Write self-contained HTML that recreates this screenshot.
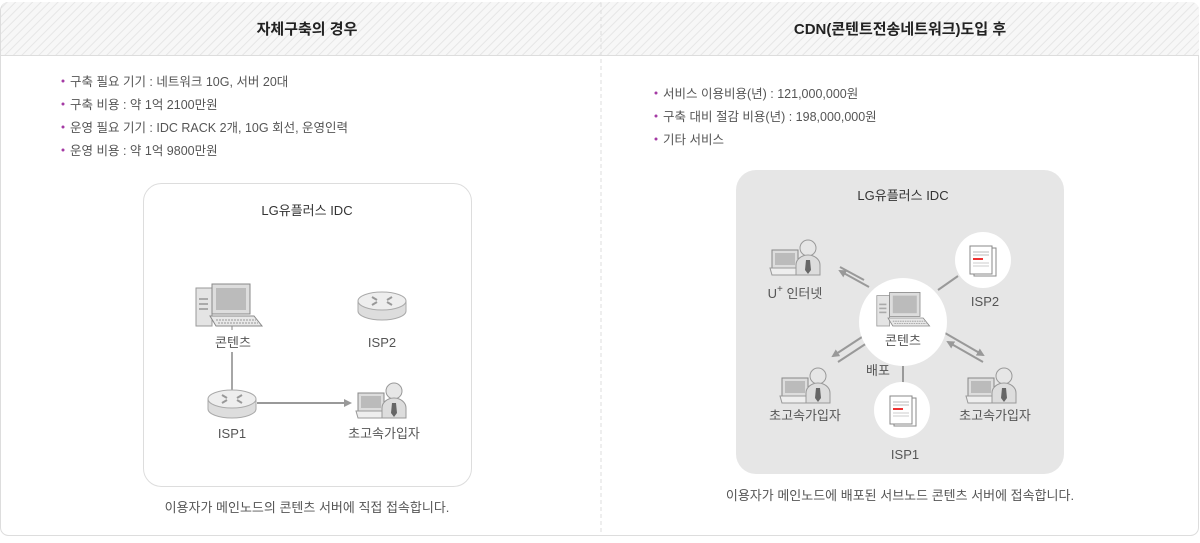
<!DOCTYPE html>
<html><head><meta charset="utf-8"><style>
html,body{margin:0;padding:0;background:#fff;}
body{width:1200px;height:538px;overflow:hidden;font-family:"Liberation Sans","Noto Sans CJK KR",sans-serif;}
</style></head><body>
<svg width="1200" height="538" viewBox="0 0 1200 538" xmlns="http://www.w3.org/2000/svg" font-family="Liberation Sans, Noto Sans CJK KR, sans-serif">
<defs>
<pattern id="hatch" width="6" height="6" patternUnits="userSpaceOnUse" patternTransform="rotate(45)">
<rect width="6" height="6" fill="#f7f7f7"/><line x1="0" y1="0" x2="0" y2="6" stroke="#e6e6e6" stroke-width="2"/></pattern>
<g id="pc">
<rect x="0" y="4" width="16" height="38" fill="#e4e4e4" stroke="#999"/>
<rect x="3" y="14" width="9" height="2" fill="#aaa"/><rect x="3" y="19" width="9" height="2" fill="#aaa"/><rect x="3" y="24" width="9" height="2" fill="#aaa"/>
<rect x="16" y="0" width="38" height="30" fill="#ddd" stroke="#888"/>
<rect x="20" y="4" width="30" height="22" fill="#bbb"/>
<polygon points="14,32 58,32 66,42 20,42" fill="#e8e8e8" stroke="#888"/>
<line x1="20" y1="36" x2="60" y2="36" stroke="#999" stroke-dasharray="2 1"/>
<line x1="22" y1="39" x2="62" y2="39" stroke="#999" stroke-dasharray="2 1"/>
</g>
<g id="router">
<path d="M-24,-4 v10 a24,9 0 0 0 48,0 v-10" fill="#ddd" stroke="#aaa"/>
<ellipse cx="0" cy="-4" rx="24" ry="9" fill="#eee" stroke="#aaa"/>
<path d="M-10,-8 l5,3 M10,-8 l-5,3 M-10,0 l5,-3 M10,0 l-5,-3" stroke="#999" stroke-width="2"/>
</g>
<g id="user">
<rect x="0" y="10" width="26" height="18" fill="#ddd" stroke="#888"/>
<rect x="3" y="13" width="20" height="12" fill="#bbb"/>
<polygon points="-2,28 30,28 34,35 0,35" fill="#eee" stroke="#999"/>
<circle cx="36" cy="8" r="8" fill="#e6e6e6" stroke="#999"/>
<path d="M24,35 v-10 a12,10 0 0 1 24,0 v10 z" fill="#ddd" stroke="#999"/>
<polygon points="34,20 38,20 39,30 36,34 33,30" fill="#666"/>
</g>
<g id="doc">
<rect x="4" y="2" width="22" height="28" fill="#fff" stroke="#888"/>
<rect x="0" y="0" width="22" height="28" fill="#fff" stroke="#888"/>
<line x1="3" y1="6" x2="19" y2="6" stroke="#bbb"/><line x1="3" y1="9" x2="19" y2="9" stroke="#bbb"/>
<rect x="3" y="12" width="10" height="2" fill="#e33"/>
<line x1="3" y1="17" x2="19" y2="17" stroke="#ccc"/><line x1="3" y1="20" x2="19" y2="20" stroke="#ccc"/>
</g>
<marker id="ah" markerWidth="8" markerHeight="8" refX="6" refY="4" orient="auto" markerUnits="userSpaceOnUse"><path d="M0,0 L8,4 L0,8 z" fill="#999"/></marker>
</defs>

<rect x="0.5" y="2.5" width="1198" height="533" rx="8" fill="#fff" stroke="#ddd"/>
<path d="M1,55 V10 a8,8 0 0 1 8,-8 H1191 a8,8 0 0 1 8,8 V55 z" fill="url(#hatch)"/>
<line x1="1" y1="55.5" x2="1199" y2="55.5" stroke="#ddd"/>
<line x1="601" y1="3" x2="601" y2="535" stroke="#ddd" stroke-dasharray="4 3"/>
<text x="307" y="34" font-size="15" font-weight="bold" text-anchor="middle" fill="#222">자체구축의 경우</text>
<text x="900" y="34" font-size="15" font-weight="bold" text-anchor="middle" fill="#222">CDN(콘텐트전송네트워크)도입 후</text>

<g font-size="12.5" fill="#555">
<g fill="#a43aa4"><circle cx="63" cy="81" r="1.5"/><circle cx="63" cy="104" r="1.5"/><circle cx="63" cy="127" r="1.5"/><circle cx="63" cy="150" r="1.5"/>
<circle cx="656" cy="93" r="1.5"/><circle cx="656" cy="116" r="1.5"/><circle cx="656" cy="139" r="1.5"/></g>
<text x="70" y="86">구축 필요 기기 : 네트워크 10G, 서버 20대</text>
<text x="70" y="109">구축 비용 : 약 1억 2100만원</text>
<text x="70" y="132">운영 필요 기기 : IDC RACK 2개, 10G 회선, 운영인력</text>
<text x="70" y="155">운영 비용 : 약 1억 9800만원</text>
<text x="663" y="98">서비스 이용비용(년) : 121,000,000원</text>
<text x="663" y="121">구축 대비 절감 비용(년) : 198,000,000원</text>
<text x="663" y="144">기타 서비스</text>
</g>

<!-- left box -->
<rect x="143.5" y="183.5" width="328" height="303" rx="18" fill="#fff" stroke="#ddd"/>
<text x="307" y="215" font-size="13" text-anchor="middle" fill="#333">LG유플러스 IDC</text>
<use href="#pc" x="196" y="284"/>
<use href="#router" x="382" y="305"/>
<line x1="232" y1="326" x2="232" y2="330" stroke="#888"/>
<line x1="232" y1="352" x2="232" y2="390" stroke="#888" stroke-width="1.5"/>
<use href="#router" x="232" y="403"/>
<line x1="257" y1="403" x2="350" y2="403" stroke="#999" stroke-width="2" marker-end="url(#ah)"/>
<use href="#user" x="358" y="383"/>
<g font-size="13" fill="#555" text-anchor="middle">
<text x="233" y="347">콘텐츠</text><text x="382" y="347">ISP2</text>
<text x="232" y="438">ISP1</text><text x="384" y="438">초고속가입자</text>
<text x="307" y="512">이용자가 메인노드의 콘텐츠 서버에 직접 접속합니다.</text>
<text x="900" y="500">이용자가 메인노드에 배포된 서브노드 콘텐츠 서버에 접속합니다.</text>
</g>

<!-- right box -->
<rect x="736" y="170" width="328" height="304" rx="20" fill="#e6e6e6"/>
<text x="903" y="200" font-size="13" text-anchor="middle" fill="#333">LG유플러스 IDC</text>
<g stroke="#999" stroke-width="2">
<line x1="903" y1="365" x2="903" y2="384"/>
<line x1="938" y1="290" x2="958" y2="276"/>
<line x1="869" y1="287" x2="840" y2="271" marker-end="url(#ah)"/>
<line x1="864" y1="280" x2="840" y2="267"/>
<line x1="862" y1="337" x2="833" y2="356" marker-end="url(#ah)"/>
<line x1="867" y1="343" x2="838" y2="362"/>
<line x1="945" y1="333" x2="983" y2="355" marker-end="url(#ah)"/>
<line x1="983" y1="362" x2="948" y2="342" marker-end="url(#ah)"/>
</g>
<circle cx="903" cy="322" r="44" fill="#fff"/>
<circle cx="983" cy="260" r="28" fill="#fff"/>
<circle cx="902" cy="410" r="28" fill="#fff"/>
<use href="#pc" x="876" y="293" transform="translate(176,58) scale(0.8)"/>
<use href="#doc" x="970" y="246"/>
<use href="#doc" x="890" y="396"/>
<use href="#user" x="772" y="240"/>
<use href="#user" x="782" y="368"/>
<use href="#user" x="968" y="368"/>
<g font-size="13" fill="#555" text-anchor="middle">
<text x="903" y="345">콘텐츠</text>
<text x="985" y="306">ISP2</text>
<text x="905" y="459">ISP1</text>
<text x="878" y="375">배포</text>
<text x="795" y="298">U<tspan dy="-6" font-size="10">+</tspan><tspan dy="6"> 인터넷</tspan></text>
<text x="805" y="420">초고속가입자</text>
<text x="995" y="420">초고속가입자</text>
</g>
</svg>
</body></html>
